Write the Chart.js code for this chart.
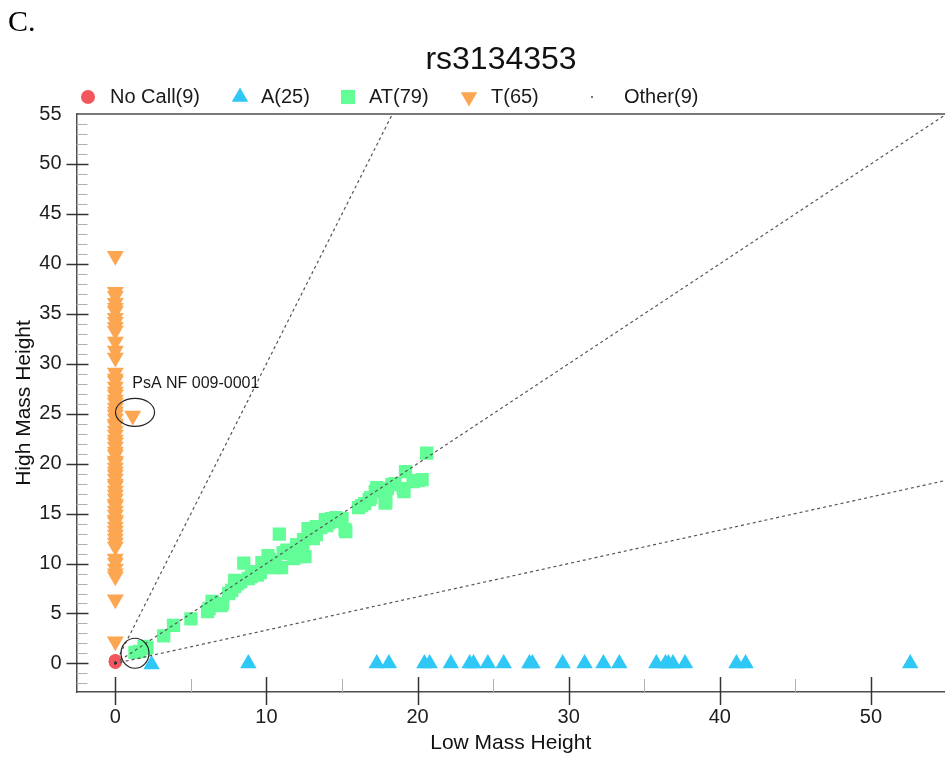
<!DOCTYPE html>
<html>
<head>
<meta charset="utf-8">
<title>rs3134353</title>
<script src="https://cdn.jsdelivr.net/npm/chart.js@4.4.0/dist/chart.umd.min.js"></script>
<style>
  html, body { margin: 0; padding: 0; background: #fff; overflow: hidden; }
  #chart { display: block; }
</style>
</head>
<body>
<canvas id="chart" width="945" height="759"></canvas>
<script>
// legend entries
var chartTitle = 'rs3134353';
var legendLabels = ['No Call(9)', 'A(25)', 'AT(79)', 'T(65)', 'Other(9)'];

// No Call
var noCallX = [0, 0, 0, 0, 0, 0, 0, 0, 0];
var noCallY = [0.25, 0.2, 0.15, 0.3, 0.2, 0.1, 0.25, 0.2, 0.15];

// A (low mass only)
var aX = [2.4, 8.8, 17.3, 18.1, 20.45, 20.8, 22.2, 23.45, 23.7, 24.65, 25.7, 27.4, 27.6,
          29.6, 31.05, 32.3, 33.35, 35.8, 36.4, 36.6, 36.9, 37.7, 41.1, 41.7, 52.6];
var aY = [-0.1, 0, 0, 0, 0, 0, 0, 0, 0, 0, 0, 0, 0,
          0, 0, 0, 0, 0, 0, 0, 0, 0, 0, 0, 0];

// AT (heterozygous)
var atX = [1.3, 1.6, 1.9, 2.1, 3.2, 3.85, 5.0, 6.1, 6.2, 6.4,
           7.0, 7.1, 7.5, 7.7, 7.9, 7.9, 8.5, 8.3, 8.8, 9.0,
           9.4, 9.6, 9.7, 9.9, 10.1, 10.2, 10.6, 10.7, 10.85, 11.0,
           11.1, 11.35, 11.65, 11.8, 12.0, 12.2, 12.4, 12.45, 12.55, 12.75,
           12.9, 13.1, 13.3, 13.3, 13.6, 13.9, 14.1, 14.3, 14.6, 14.85,
           15.2, 15.25, 16.1, 16.3, 16.5, 16.8, 16.9, 17.2, 17.3, 17.85,
           17.9, 18.3, 18.5, 19.1, 19.05, 19.2, 19.7, 20.05, 20.3, 20.6,
           8.1, 10.4, 11.5, 12.0, 14.0, 15.0, 18.0, 2.0, 9.2];
var atY = [1.1, 1.2, 1.7, 1.6, 2.75, 3.8, 4.45, 5.2, 5.5, 6.2,
           5.8, 6.0, 7.0, 7.3, 7.7, 8.3, 10.05, 8.2, 8.5, 8.7,
           8.85, 9.1, 10.1, 9.6, 10.8, 10.4, 10.0, 9.6, 12.95, 9.6,
           11.1, 11.35, 11.2, 10.5, 10.8, 10.7, 11.6, 12.4, 10.7, 13.5,
           13.4, 12.5, 12.9, 13.7, 13.6, 14.4, 14.1, 14.5, 14.6, 14.2,
           13.4, 13.2, 15.6, 15.8, 16.0, 16.4, 16.6, 17.2, 17.6, 16.05,
           16.2, 17.9, 18.0, 17.2, 17.5, 19.2, 18.2, 18.3, 18.4, 21.05,
           8.0, 10.2, 11.0, 11.9, 13.8, 14.5, 17.5, 1.5, 9.2];

// T (high mass only), last one is the labelled sample
var tX = [0, 0, 0, 0, 0, 0, 0, 0, 0, 0, 0, 0, 0,
          0, 0, 0, 0, 0, 0, 0, 0, 0, 0, 0, 0, 0, 0, 0, 0, 0, 0,
          0, 0, 0, 0, 0, 0, 0, 0, 0, 0, 0, 0, 0, 0, 0, 0, 0, 0,
          0, 0, 0, 0, 0, 0, 0, 0, 0, 0, 0, 0, 0, 0, 0, 1.15];
var tY = [40.8, 37.2, 36.8, 36.1, 35.6, 35.3, 34.6, 34.2, 33.7, 33.3, 32.2, 31.3, 30.6,
          29.1, 28.5, 28.3, 27.7, 27.2, 26.9, 26.4, 26.1, 25.6, 25.2, 24.9, 24.5, 24.0, 23.8, 23.3, 22.9, 22.4, 22.1,
          21.7, 21.2, 20.9, 20.3, 20.1, 19.6, 19.2, 18.9, 18.5, 18.0, 17.8, 17.3, 16.9, 16.5, 16.0, 15.8, 15.3,
          14.9, 14.4, 14.2, 13.7, 13.3, 12.9, 12.5, 12.1, 11.7, 10.5, 10.1, 9.5, 9.0, 8.7, 6.4, 2.2, 24.8];
var sampleLabel = 'PsA NF 009-0001';

// Other
var otherX = [0, 0, 0, 0, 0, 0, 0, 0, 0];
var otherY = [0.05, 0.05, 0.05, 0.05, 0.05, 0.05, 0.05, 0.05, 0.05];

// cluster guide lines (y = 3x, y = x, y = x/3)
var steepLineX = [0.3, 19];
var steepLineY = [0.9, 57];
var midLineX = [0.3, 57];
var midLineY = [0.3, 57];
var lowLineX = [0.3, 57];
var lowLineY = [0.1, 19];

var xTickValues = [0, 10, 20, 30, 40, 50];
var yTickValues = [0, 5, 10, 15, 20, 25, 30, 35, 40, 45, 50, 55];

var FONT = "'Liberation Sans', Arial, sans-serif";
var RED = '#F2575E', BLUE = '#2FC8F6', GREEN = '#63FD97', ORANGE = '#FDA651', DOT = '#333';

function pts(xs, ys) {
  return xs.map(function(x, i) { return {x: x, y: ys[i]}; });
}

function guide(xs, ys) {
  return {
    type: 'line', data: pts(xs, ys), showLine: true, pointRadius: 0,
    borderColor: '#555', borderWidth: 1.2, borderDash: [3, 3], fill: false, order: 0
  };
}

// legend marker / text positions
var legendMarkX = [88, 240, 348, 469, 592];
var legendTextX = [110, 261, 369, 491, 624];
var legendStyles = [
  {pointStyle: 'circle', radius: 7, rotation: 0, color: RED},
  {pointStyle: 'triangle', radius: 9.5, rotation: 0, color: BLUE},
  {pointStyle: 'rect', radius: 10, rotation: 0, color: GREEN},
  {pointStyle: 'triangle', radius: 9.5, rotation: 180, color: ORANGE},
  {pointStyle: 'circle', radius: 0.9, rotation: 0, color: DOT}
];

var decor = {
  id: 'decor',
  afterDraw: function(chart) {
    var ctx = chart.ctx, area = chart.chartArea;
    var xs = chart.scales.x, ys = chart.scales.y;
    ctx.save();

    // panel letter
    ctx.fillStyle = '#000';
    ctx.font = "30px 'Liberation Serif', 'Times New Roman', serif";
    ctx.textBaseline = 'alphabetic';
    ctx.textAlign = 'left';
    ctx.fillText('C.', 8, 31);

    // title
    ctx.font = '32px ' + FONT;
    ctx.textAlign = 'center';
    ctx.textBaseline = 'middle';
    ctx.fillStyle = '#111';
    ctx.fillText(chartTitle, 501, 60);
    ctx.textAlign = 'left';

    // top frame line
    ctx.strokeStyle = '#4d4d4d';
    ctx.lineWidth = 1.5;
    ctx.beginPath();
    ctx.moveTo(area.left, area.top);
    ctx.lineTo(area.right, area.top);
    ctx.stroke();

    // y ticks: minor every 1, major every 5
    for (var v = -2; v <= 54; v++) {
      var py = Math.round(ys.getPixelForValue(v)) + 0.5;
      ctx.beginPath();
      if (v % 5 === 0) {
        ctx.strokeStyle = '#333'; ctx.lineWidth = 1.5;
        ctx.moveTo(area.left - 10, py); ctx.lineTo(area.left + 12, py);
      } else {
        ctx.strokeStyle = '#b0b0b0'; ctx.lineWidth = 1;
        ctx.moveTo(area.left, py); ctx.lineTo(area.left + 11, py);
      }
      ctx.stroke();
    }
    // x ticks: major every 10, minor at 5s
    for (var u = 0; u <= 50; u += 5) {
      var px = Math.round(xs.getPixelForValue(u)) + 0.5;
      ctx.beginPath();
      if (u % 10 === 0) {
        ctx.strokeStyle = '#333'; ctx.lineWidth = 1.5;
        ctx.moveTo(px, area.bottom - 15); ctx.lineTo(px, area.bottom + 13);
      } else {
        ctx.strokeStyle = '#b0b0b0'; ctx.lineWidth = 1;
        ctx.moveTo(px, area.bottom - 13); ctx.lineTo(px, area.bottom);
      }
      ctx.stroke();
    }

    // legend
    ctx.font = '20px ' + FONT;
    ctx.textBaseline = 'middle';
    var ly = 97;
    legendLabels.forEach(function(label, i) {
      var st = legendStyles[i];
      ctx.fillStyle = st.color;
      ctx.strokeStyle = st.color;
      Chart.helpers.drawPoint(ctx, {pointStyle: st.pointStyle, radius: st.radius, rotation: st.rotation, borderWidth: 0}, legendMarkX[i], ly);
      ctx.fillStyle = '#1a1a1a';
      ctx.fillText(label, legendTextX[i], ly);
    });

    // annotation around the labelled T sample
    var n = tX.length - 1;
    var sx = xs.getPixelForValue(tX[n]), sy = ys.getPixelForValue(tY[n]);
    ctx.strokeStyle = '#222';
    ctx.lineWidth = 1.2;
    ctx.beginPath();
    ctx.ellipse(sx + 2.3, sy - 3.4, 19.5, 14, 0, 0, Math.PI * 2);
    ctx.stroke();
    ctx.font = '16px ' + FONT;
    ctx.fillStyle = '#1a1a1a';
    ctx.textBaseline = 'middle';
    ctx.fillText(sampleLabel, sx - 0.5, sy - 32.5);

    // circle around lowest AT sample
    var cx = xs.getPixelForValue(atX[0]), cy = ys.getPixelForValue(atY[0]);
    ctx.beginPath();
    ctx.ellipse(cx, cy + 0.8, 14, 15, 0, 0, Math.PI * 2);
    ctx.stroke();

    ctx.restore();
  }
};

new Chart(document.getElementById('chart'), {
  type: 'scatter',
  data: {
    datasets: [
      guide(steepLineX, steepLineY),
      guide(midLineX, midLineY),
      guide(lowLineX, lowLineY),
      {label: legendLabels[4], data: pts(otherX, otherY), pointStyle: 'circle', pointRadius: 1.2,
       backgroundColor: DOT, borderWidth: 0, order: 1},
      {label: legendLabels[0], data: pts(noCallX, noCallY), pointStyle: 'circle', pointRadius: 6.5,
       backgroundColor: RED, borderWidth: 0, order: 2},
      {label: legendLabels[3], data: pts(tX, tY), pointStyle: 'triangle', pointRotation: 180, pointRadius: 9.8,
       backgroundColor: ORANGE, borderWidth: 0, order: 3},
      {label: legendLabels[2], data: pts(atX, atY), pointStyle: 'rect', pointRadius: 9.4,
       backgroundColor: GREEN, borderWidth: 0, order: 4},
      {label: legendLabels[1], data: pts(aX, aY), pointStyle: 'triangle', pointRadius: 9.5,
       backgroundColor: BLUE, borderWidth: 0, order: 5}
    ]
  },
  options: {
    responsive: false,
    animation: false,
    layout: {autoPadding: false, padding: {top: 114, left: 0, right: 0, bottom: 0}},
    plugins: {
      legend: {display: false},
      tooltip: {enabled: false},
      title: {display: false}
    },
    scales: {
      x: {
        type: 'linear', min: -2.57, max: 54.9,
        afterFit: function(s) { s.height = 67; s.paddingLeft = 0; s.paddingRight = 0; },
        afterBuildTicks: function(s) { s.ticks = xTickValues.map(function(v) { return {value: v}; }); },
        grid: {display: false, drawTicks: false},
        border: {display: true, color: '#4d4d4d', width: 1.5},
        ticks: {color: '#1e1e1e', font: {family: FONT, size: 20}, padding: 13, autoSkip: false, maxRotation: 0},
        title: {display: true, text: 'Low Mass Height', color: '#111',
                font: {family: FONT, size: 21}, padding: {top: 0, bottom: 3.4}}
      },
      y: {
        type: 'linear', min: -2.86, max: 55,
        afterFit: function(s) { s.width = 76.5; s.paddingTop = 0; s.paddingBottom = 0; },
        afterBuildTicks: function(s) { s.ticks = yTickValues.map(function(v) { return {value: v}; }); },
        grid: {display: false, drawTicks: false},
        border: {display: true, color: '#4d4d4d', width: 1.5},
        ticks: {color: '#1e1e1e', font: {family: FONT, size: 20}, padding: 15, autoSkip: false},
        title: {display: true, text: 'High Mass Height', color: '#111',
                font: {family: FONT, size: 21}, padding: {top: 11.4, bottom: 0}}
      }
    }
  },
  plugins: [decor]
});
</script>
</body>
</html>
